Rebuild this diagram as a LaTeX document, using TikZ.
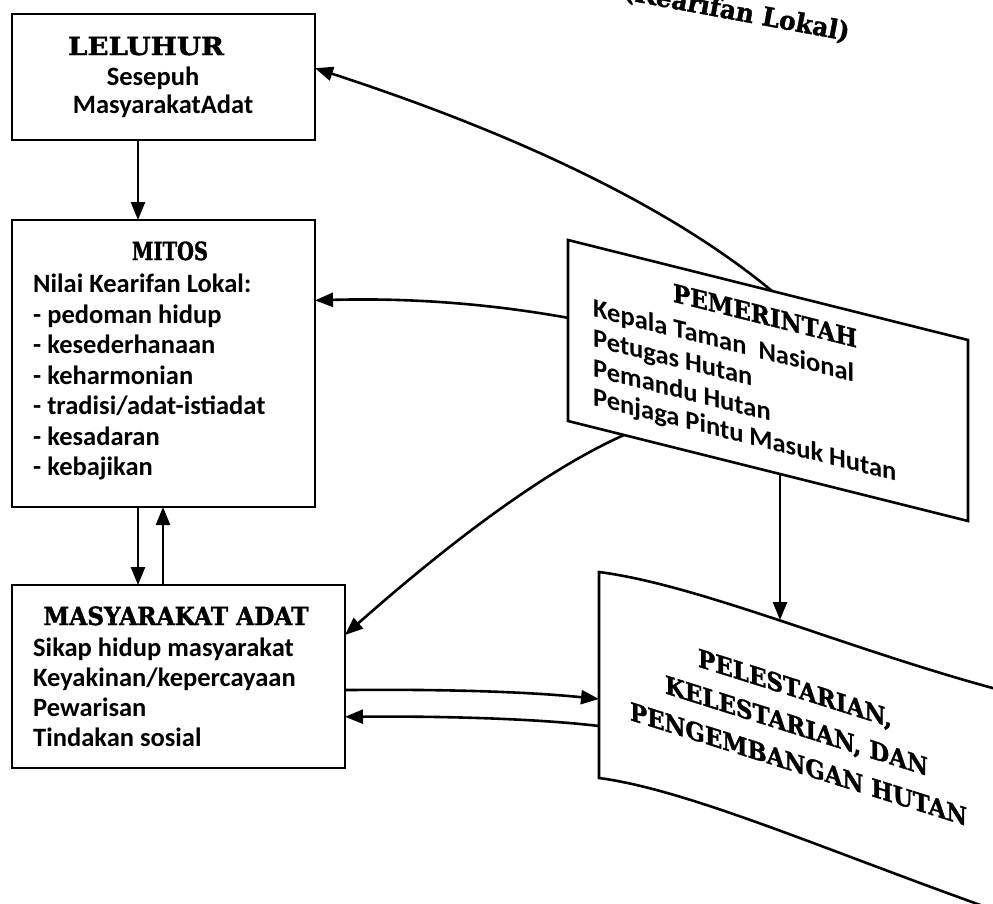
\documentclass[tikz,border=0pt]{standalone}
\usepackage{graphicx}
\usepackage{fontspec}
\setmainfont{Carlito}
\newfontfamily\hdfont{DejaVu Serif}[BoldFeatures={FakeBold=1.5}]
\newcommand\fitw[2]{\resizebox{#1pt}{\height}{#2}}
\usetikzlibrary{arrows.meta,calc}
\begin{document}
\begin{tikzpicture}[x=1pt,y=-1pt,
  box/.style={draw, line width=2.6pt, inner sep=0pt, outer sep=0pt, anchor=north west},
  hd/.style={font=\hdfont\bfseries\fontsize{25}{28}\selectfont, inner sep=0pt, anchor=base},
  bt/.style={font=\bfseries\fontsize{26.5}{30}\selectfont, inner sep=0pt, anchor=base west},
  arr/.style={line width=2.6pt, -{Triangle[length=18pt,width=14pt]}},
  edge line/.style={line width=2.6pt}
]
\useasboundingbox (0,0) rectangle (993,903);
\clip (0,0) rectangle (993,903);

% title (partly cut off at the top, as in the source)
\node[font=\hdfont\bfseries\fontsize{26}{26}\selectfont, rotate=-10.5, anchor=base east, inner sep=0pt] (ttl) at (848,41) {\fitw{229}{(Kearifan Lokal)}};

% LELUHUR
\node[box, minimum width=303pt, minimum height=126pt] (lel) at (12,14) {};
\node[hd] (lelT) at (146,55) {\fitw{156}{LELUHUR}};
\node[bt, anchor=base] (lel1) at (153,85) {Sesepuh};
\node[bt, anchor=base] (lel2) at (163,113) {MasyarakatAdat};

% MITOS
\node[box, minimum width=303pt, minimum height=287pt] (mitos) at (12,220) {};
\node[hd] (mitT) at (170,260) {\fitw{76}{MITOS}};
\node[bt] (mit1) at (33,292) {Nilai Kearifan Lokal:};
\node[bt] (mit2) at (33,323) {- pedoman hidup};
\node[bt] (mit3) at (33,353.5) {- kesederhanaan};
\node[bt] (mit4) at (33,384) {- keharmonian};
\node[bt] (mit5) at (33,414.5) {- tradisi/adat-istiadat};
\node[bt] (mit6) at (33,445) {- kesadaran};
\node[bt] (mit7) at (33,475.5) {- kebajikan};

% MASYARAKAT ADAT
\node[box, minimum width=333pt, minimum height=183pt] (masy) at (12,585) {};
\node[hd] (masT) at (176,625) {\fitw{265}{MASYARAKAT ADAT}};
\node[bt] (mas1) at (33,656) {Sikap hidup masyarakat};
\node[bt] (mas2) at (33,686) {Keyakinan/kepercayaan};
\node[bt] (mas3) at (33,716) {Pewarisan};
\node[bt] (mas4) at (33,746) {Tindakan sosial};

% PEMERINTAH (slanted box)
\begin{scope}[shift={(568,240)}, yslant=-0.25]
  \node[box, transform shape, minimum width=400pt, minimum height=181pt] (pem) at (0,0) {};
  \node[hd, transform shape] (pemT) at (197,35.4) {\fitw{184}{PEMERINTAH}};
  \node[bt, transform shape] (pem1) at (25,70.4) {Kepala Taman\ \ Nasional};
  \node[bt, transform shape] (pem2) at (25,100.4) {Petugas Hutan};
  \node[bt, transform shape] (pem3) at (25,130.4) {Pemandu Hutan};
  \node[bt, transform shape] (pem4) at (25,159) {Penjaga Pintu Masuk Hutan};
\end{scope}

% PELESTARIAN (wave shape, cut by the page edge)
\draw[edge line] (599,572) .. controls (700,585) and (850,650) .. (1000,690)
  -- (1000,912) .. controls (830,852) and (690,790) .. (599,778) -- cycle;
\coordinate (pelN) at (780,620);
\coordinate (pelW1) at (599,699);
\coordinate (pelW2) at (599,726);
\begin{scope}[shift={(599,572)}, yslant=-0.315]
  \node[hd, transform shape] (pel1) at (196,63.4) {\fitw{194}{PELESTARIAN,}};
  \node[hd, transform shape] (pel2) at (197.5,100.5) {\fitw{263}{KELESTARIAN, DAN}};
  \node[hd, transform shape] (pel3) at (199.5,138.2) {\fitw{337}{PENGEMBANGAN HUTAN}};
\end{scope}

% connectors
\coordinate (x138) at (138,0);
\coordinate (x163) at (163,0);
\draw[arr] (x138 |- lel.south) -- (x138 |- mitos.north);
\draw[arr] (x138 |- mitos.south) -- (x138 |- masy.north);
\draw[arr] (x163 |- masy.north) -- (x163 |- mitos.south);
\draw[arr] ($(pem.north west)!0.51!(pem.north east)$) .. controls (672,208) and (520,135) .. ($(lel.north east)!0.43!(lel.south east)$);
\draw[arr] ($(pem.north west)!0.43!(pem.south west)$) .. controls (480,302) and (400,298) .. ($(mitos.north east)!0.28!(mitos.south east)$);
\draw[arr] ($(pem.south west)!0.14!(pem.south east)$) .. controls (550,468) and (457,536) .. ($(masy.north east)!0.273!(masy.south east)$);
\coordinate (pemB) at ($(pem.south west)!0.53!(pem.south east)$);
\draw[arr] (pemB) -- (pemB |- pelN);
\draw[arr] ($(masy.north east)!0.574!(masy.south east)$) .. controls (450,689) and (530,692) .. (pelW1);
\draw[arr] (pelW2) .. controls (540,719) and (450,716) .. ($(masy.north east)!0.72!(masy.south east)$);
\end{tikzpicture}
\end{document}
